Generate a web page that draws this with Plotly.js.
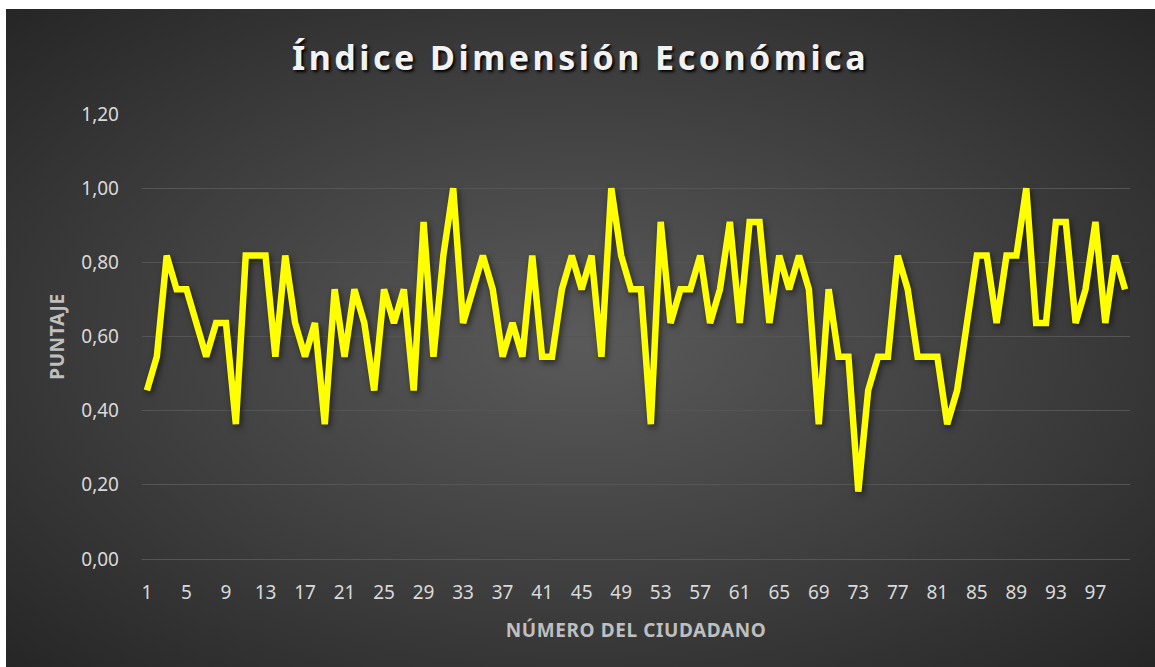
<!DOCTYPE html>
<html>
<head>
<meta charset="utf-8">
<script src="https://cdn.plot.ly/plotly-3.0.1.min.js"></script>
<style>
  html, body { margin: 0; padding: 0; background: #ffffff; width: 1155px; height: 667px; overflow: hidden; }
  #chart {
    position: absolute; left: 6px; top: 9px; width: 1149px; height: 658px;
    background: radial-gradient(ellipse at 50% 50%, #5a5a5a 0%, #3e3e3e 55%, #262626 100%);
  }
  #chart .gtitle { letter-spacing: 3.5px; }
  #chart .ytitle, #chart .xtitle { letter-spacing: 0.6px; }
  #chart .scatterlayer .js-line { filter: drop-shadow(2px 3px 3px rgba(0,0,0,0.55)); }
</style>
</head>
<body>
<div id="chart"></div>
<script>
// Citizen numbers 1..100
const ciudadanos = [
  1,2,3,4,5,6,7,8,9,10,11,12,13,14,15,16,17,18,19,20,
  21,22,23,24,25,26,27,28,29,30,31,32,33,34,35,36,37,38,39,40,
  41,42,43,44,45,46,47,48,49,50,51,52,53,54,55,56,57,58,59,60,
  61,62,63,64,65,66,67,68,69,70,71,72,73,74,75,76,77,78,79,80,
  81,82,83,84,85,86,87,88,89,90,91,92,93,94,95,96,97,98,99,100
];
// Index values
const puntaje = [
  0.4545,0.5455,0.8182,0.7273,0.7273,0.6364,0.5455,0.6364,0.6364,0.3636,
  0.8182,0.8182,0.8182,0.5455,0.8182,0.6364,0.5455,0.6364,0.3636,0.7273,
  0.5455,0.7273,0.6364,0.4545,0.7273,0.6364,0.7273,0.4545,0.9091,0.5455,
  0.8182,1.0000,0.6364,0.7273,0.8182,0.7273,0.5455,0.6364,0.5455,0.8182,
  0.5455,0.5455,0.7273,0.8182,0.7273,0.8182,0.5455,1.0000,0.8182,0.7273,
  0.7273,0.3636,0.9091,0.6364,0.7273,0.7273,0.8182,0.6364,0.7273,0.9091,
  0.6364,0.9091,0.9091,0.6364,0.8182,0.7273,0.8182,0.7273,0.3636,0.7273,
  0.5455,0.5455,0.1818,0.4545,0.5455,0.5455,0.8182,0.7273,0.5455,0.5455,
  0.5455,0.3636,0.4545,0.6364,0.8182,0.8182,0.6364,0.8182,0.8182,1.0000,
  0.6364,0.6364,0.9091,0.9091,0.6364,0.7273,0.9091,0.6364,0.8182,0.7273
];
const xTickVals = [1,5,9,13,17,21,25,29,33,37,41,45,49,53,57,61,65,69,73,77,81,85,89,93,97];
const yTickVals = [0,0.2,0.4,0.6,0.8,1.0,1.2];

const trace = {
  x: ciudadanos,
  y: puntaje,
  type: 'scatter',
  mode: 'lines',
  line: { color: '#ffff00', width: 6.5 },
  hoverinfo: 'x+y'
};

const layout = {
  width: 1149,
  height: 658,
  paper_bgcolor: 'rgba(0,0,0,0)',
  plot_bgcolor: 'rgba(0,0,0,0)',
  separators: ',.',
  margin: { l: 136, r: 25, t: 105, b: 108 },
  showlegend: false,
  title: {
    text: 'Índice Dimensión Económica',
    x: 0.5, xanchor: 'center',
    y: 0.925, yanchor: 'middle',
    font: { family: 'Noto Sans, sans-serif', size: 34, color: '#f2f2f2', weight: 'bold', shadow: '2px 2px 3px #000000' }
  },
  xaxis: {
    range: [0.5, 100.5],
    tickmode: 'array',
    tickvals: xTickVals,
    ticktext: xTickVals.map(String),
    showgrid: false,
    zeroline: false,
    showline: false,
    ticks: '',
    ticklabelstandoff: 20,
    tickfont: { family: 'Noto Sans, sans-serif', size: 19, color: '#d9d9d9' },
    title: {
      text: 'NÚMERO DEL CIUDADANO',
      standoff: 19,
      font: { family: 'Noto Sans, sans-serif', size: 19, color: '#bfbfbf', weight: 'bold' }
    }
  },
  yaxis: {
    range: [0, 1.2],
    tickmode: 'array',
    tickvals: yTickVals,
    tickformat: '.2f',
    showgrid: true,
    gridcolor: '#555555',
    gridwidth: 1,
    zeroline: true,
    zerolinecolor: '#555555',
    zerolinewidth: 1,
    showline: false,
    ticks: '',
    ticklabelstandoff: 22,
    tickfont: { family: 'Noto Sans, sans-serif', size: 19, color: '#d9d9d9' },
    title: {
      text: 'PUNTAJE',
      standoff: 11,
      font: { family: 'Noto Sans, sans-serif', size: 19, color: '#bfbfbf', weight: 'bold' }
    }
  }
};

Plotly.newPlot('chart', [trace], layout, { displayModeBar: false });
</script>
</body>
</html>
